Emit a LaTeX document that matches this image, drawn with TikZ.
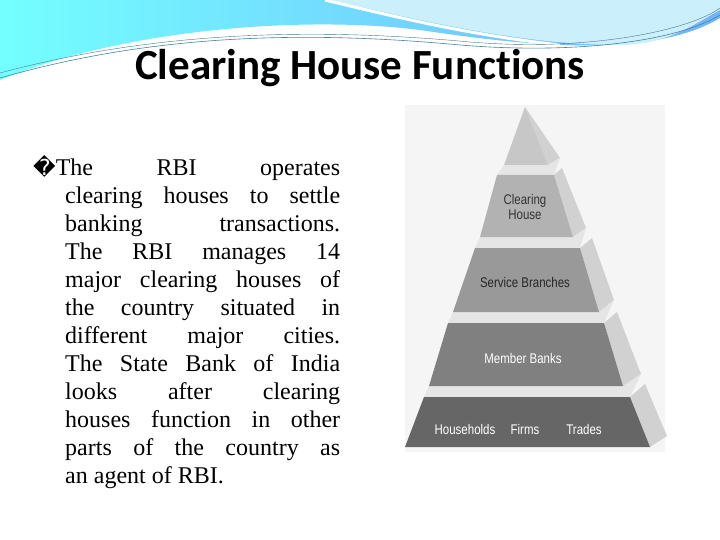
\documentclass[tikz,border=0pt]{standalone}
\usepackage{fontspec}
\setmainfont{Liberation Serif}
\newfontfamily\titlefont[Ligatures=NoCommon]{Carlito}
\newfontfamily\labfont[FakeStretch=0.82]{Liberation Sans}
\newfontfamily\symfont{DejaVu Sans}
\begin{document}
\begin{tikzpicture}[x=1pt,y=-1pt,
  tierlab/.style={font=\labfont\fontsize{14}{15}\selectfont,align=center,inner sep=0pt},
  sideface/.style={fill=black!18},
  topface/.style={fill=black!10}]
\useasboundingbox (0,0) rectangle (720,540);
\fill[white] (0,0) rectangle (720,540);
% header waves
\shade[left color=cyan!55!white, right color=cyan!45!blue!55!white]
  (0,0) -- (720,0) -- (720,18) .. controls (650,60) and (520,45) .. (420,30)
  .. controls (300,15) and (120,30) .. (0,80) -- cycle;
\fill[cyan!20!white] (330,0) .. controls (420,20) and (520,45) .. (620,45)
  .. controls (670,45) and (700,20) .. (720,10) -- (720,0) -- cycle;
\draw[white,line width=3pt] (325,0) .. controls (400,18) and (470,35) .. (560,45);
\draw[cyan!60!black,line width=0.6pt] (0,78) .. controls (150,35) and (300,30) .. (460,45)
  .. controls (580,55) and (680,40) .. (720,15);
\draw[cyan!50!black,line width=0.4pt] (0,73) .. controls (160,30) and (320,28) .. (470,42)
  .. controls (590,52) and (690,30) .. (720,8);
\node[font=\titlefont\bfseries\fontsize{43}{48}\selectfont] (title) at (360,68) {Clearing House Functions};
% body text
\node[anchor=north west,text width=275pt,align=justify,inner sep=0pt,
  font=\fontsize{24}{28}\selectfont] (body) at (65,155)
  {\hspace*{-32pt}{\symfont\fontsize{22}{28}\selectfont\char"FFFD}The RBI operates\linebreak
  clearing houses to settle\linebreak
  banking transactions.\linebreak
  The RBI manages 14\linebreak
  major clearing houses of\linebreak
  the country situated in\linebreak
  different major cities.\linebreak
  The State Bank of India\linebreak
  looks after clearing\linebreak
  houses function in other\linebreak
  parts of the country as\linebreak
  an agent of RBI.};
% pyramid
\fill[black!4] (405,105) rectangle (665,452);
% side faces
\fill[sideface] (548,165) -- (525,107) -- (560,158) -- cycle;
\fill[sideface] (573,237) -- (554,175) -- (562,168) -- (586,228) -- cycle;
\fill[sideface] (599,312) -- (580,248) -- (592,238) -- (614,300) -- cycle;
\fill[sideface] (623,386) -- (604,323) -- (617,312) -- (641,374) -- cycle;
\fill[sideface] (650,447) -- (630,397) -- (645,384) -- (667,436) -- cycle;
% top faces
\fill[topface] (504,165) -- (548,165) -- (560,158) -- (554,175) -- (497,175) -- cycle;
\fill[topface] (480,237) -- (573,237) -- (586,228) -- (580,248) -- (475,248) -- cycle;
\fill[topface] (453,312) -- (599,312) -- (614,300) -- (604,323) -- (448,323) -- cycle;
\fill[topface] (429,386) -- (623,386) -- (641,374) -- (630,397) -- (424,397) -- cycle;
% fronts
\fill[black!22] (525,107) -- (548,165) -- (504,165) -- cycle;
\fill[black!30] (497,175) -- (554,175) -- (573,237) -- (480,237) -- cycle;
\fill[black!40] (475,248) -- (580,248) -- (599,312) -- (453,312) -- cycle;
\fill[black!50] (448,323) -- (604,323) -- (623,386) -- (429,386) -- cycle;
\fill[black!60] (424,397) -- (630,397) -- (650,447) -- (405,447) -- cycle;
\node[tierlab,text=black!80] (ch) at (525,207) {Clearing\\House};
\node[tierlab,text=black!85] (sb) at (525,282) {Service Branches};
\node[tierlab,text=white] (mb) at (523,358) {Member Banks};
\node[tierlab,text=white] (hh) at (465,429) {Households};
\node[tierlab,text=white] (fi) at (525,429) {Firms};
\node[tierlab,text=white] (tr) at (584,429) {Trades};
\end{tikzpicture}
\end{document}
